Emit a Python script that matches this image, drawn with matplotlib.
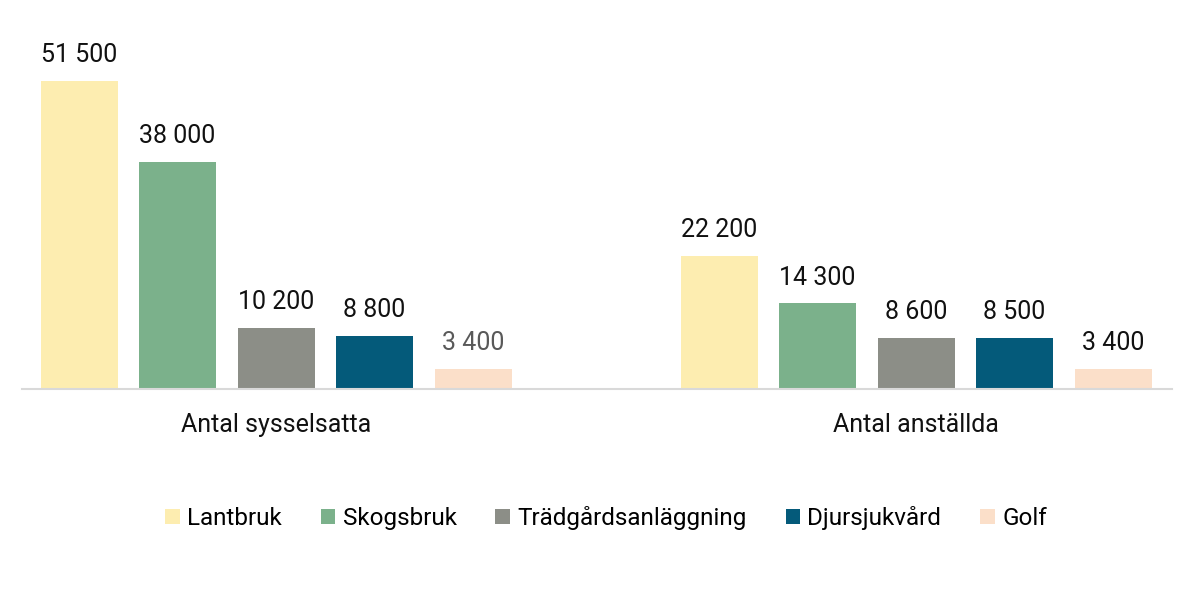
import matplotlib.pyplot as plt
from matplotlib.patches import Patch

categories = ['Antal sysselsatta', 'Antal anställda']
series = ['Lantbruk', 'Skogsbruk', 'Trädgårdsanläggning', 'Djursjukvård', 'Golf']
values = {
    'Lantbruk': [51500, 22200],
    'Skogsbruk': [38000, 14300],
    'Trädgårdsanläggning': [10200, 8600],
    'Djursjukvård': [8800, 8500],
    'Golf': [3400, 3400],
}
colors = ['#FDEDB0', '#7BB18B', '#8C8E87', '#045A7A', '#FBDFC9']


def fmt(v):
    return f'{v:,}'.replace(',', ' ')


def main():
    plt.rcParams['font.family'] = ['Roboto', 'DejaVu Sans']
    fig = plt.figure(figsize=(12, 5.95), dpi=100)
    ax = fig.add_axes([22 / 1200, 206 / 595, 1150 / 1200, 359 / 595])

    step = 98.5 / 640
    width = 77 / 640
    for i, name in enumerate(series):
        xs = [g + (i - 2) * step for g in range(len(categories))]
        ax.bar(xs, values[name], width=width, color=colors[i], linewidth=0)
        for j, (x, v) in enumerate(zip(xs, values[name])):
            col = '#595959' if (name == 'Golf' and j == 0) else '#111111'
            ax.annotate(fmt(v), (x, v), xytext=(0, 10), textcoords='offset points',
                        ha='center', va='bottom', fontsize=18, color=col)

    ax.set_xlim((22 - 276) / 640, (1172 - 276) / 640)
    ax.set_ylim(0, 60000)
    ax.set_xticks(range(len(categories)))
    ax.set_xticklabels(categories, fontsize=18, color='#111111')
    ax.tick_params(axis='x', length=0, pad=17)
    ax.set_yticks([])
    for s in ['top', 'right', 'left']:
        ax.spines[s].set_visible(False)
    ax.spines['bottom'].set_color('#D9D9D9')
    ax.spines['bottom'].set_linewidth(1.5)

    handles = [Patch(facecolor=c, edgecolor='none', label=n) for n, c in zip(series, colors)]
    fig.legend(handles=handles, loc='center', bbox_to_anchor=(606 / 1200, 1 - 518 / 595),
               ncol=5, frameon=False, fontsize=17.5, handlelength=0.6, handleheight=0.6,
               handletextpad=0.3, columnspacing=1.6)

    plt.savefig('out.png', dpi=100)


if __name__ == "__main__":
    main()
